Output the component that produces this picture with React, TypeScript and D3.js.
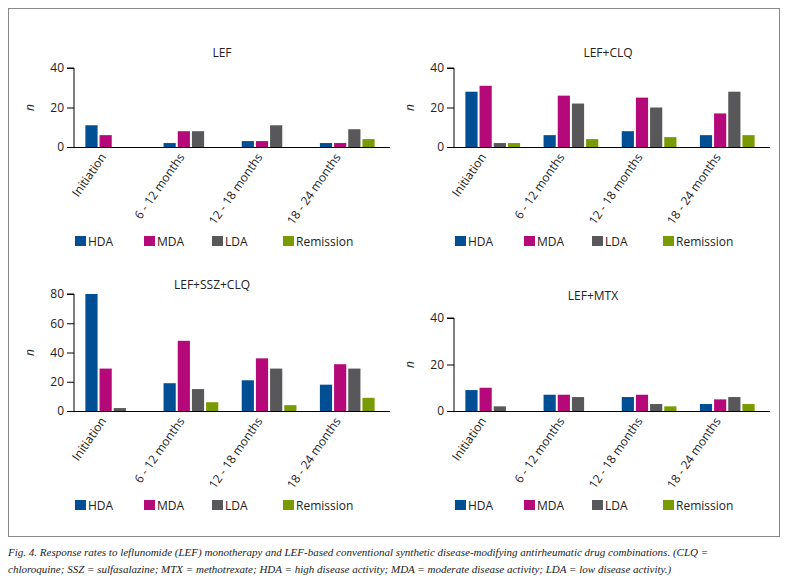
import { useEffect, useRef } from 'react';
import * as d3 from 'd3';

const categories = ['Initiation', '6 - 12 months', '12 - 18 months', '18 - 24 months'];
const seriesNames = ['HDA', 'MDA', 'LDA', 'Remission'];
const colors = ['#004f95', '#b5097a', '#58585a', '#7a9a01'];

const lefValues = [[11, 6, 0, 0], [2, 8, 8, 0], [3, 3, 11, 0], [2, 2, 9, 4]];
const lefClqValues = [[28, 31, 2, 2], [6, 26, 22, 4], [8, 25, 20, 5], [6, 17, 28, 6]];
const lefSszClqValues = [[80, 29, 2, 0], [19, 48, 15, 6], [21, 36, 29, 4], [18, 32, 29, 9]];
const lefMtxValues = [[9, 10, 2, 0], [7, 7, 6, 0], [6, 7, 3, 2], [3, 5, 6, 3]];

const panels = [
  { title: 'LEF', values: lefValues, max: 40, ticks: [0, 20, 40], x: 74, top: 68, bottom: 147, titleX: 222, titleY: 57, legendY: 241 },
  { title: 'LEF+CLQ', values: lefClqValues, max: 40, ticks: [0, 20, 40], x: 454, top: 68, bottom: 147, titleX: 608, titleY: 57, legendY: 241 },
  { title: 'LEF+SSZ+CLQ', values: lefSszClqValues, max: 80, ticks: [0, 20, 40, 60, 80], x: 74, top: 294, bottom: 411, titleX: 212, titleY: 289, legendY: 505 },
  { title: 'LEF+MTX', values: lefMtxValues, max: 40, ticks: [0, 20, 40], x: 454, top: 318, bottom: 411, titleX: 593, titleY: 300, legendY: 505 },
];

const font = '"Open Sans", "Noto Sans", sans-serif';

export default function App() {
  const svgRef = useRef<SVGSVGElement>(null);

  useEffect(() => {
    if (!svgRef.current) return;
    const svg = d3.select(svgRef.current);
    svg.selectAll('*').remove();

    svg.append('rect').attr('x', 8.5).attr('y', 8.5).attr('width', 771).attr('height', 528)
      .attr('fill', 'none').attr('stroke', '#888').attr('stroke-width', 1);

    panels.forEach((p) => {
      const g = svg.append('g');
      const x0 = d3.scaleBand().domain(categories).range([p.x + 2, p.x + 310]).paddingInner(0.3).paddingOuter(0.12);
      const x1 = d3.scaleBand().domain(seriesNames).range([0, x0.bandwidth()]).paddingInner(0.14);
      const y = d3.scaleLinear().domain([0, p.max]).range([p.bottom, p.top]);

      g.append('text').attr('x', p.titleX).attr('y', p.titleY).attr('text-anchor', 'middle')
        .attr('font-family', font).attr('font-size', 12).attr('fill', '#222').text(p.title);

      g.append('text').attr('transform', `translate(${p.x - 40},${(p.top + p.bottom) / 2}) rotate(-90)`)
        .attr('text-anchor', 'middle').attr('font-family', font).attr('font-style', 'italic')
        .attr('font-size', 12).attr('fill', '#222').text('n');

      categories.forEach((c, ci) => {
        g.selectAll(null).data(p.values[ci]).enter().append('rect')
          .attr('x', (_, i) => x0(c)! + x1(seriesNames[i])!)
          .attr('width', x1.bandwidth())
          .attr('y', (d) => y(d))
          .attr('height', (d) => p.bottom - y(d))
          .attr('fill', (_, i) => colors[i]);
      });

      const ya = g.append('g').attr('transform', `translate(${p.x},0)`)
        .call(d3.axisLeft(y).tickValues(p.ticks).tickSize(7).tickPadding(3));
      ya.select('.domain').attr('d', `M-7,${p.top}H0V${p.bottom}`);
      ya.selectAll('text').attr('font-family', font).attr('font-size', 12).attr('fill', '#222');

      g.append('line').attr('x1', p.x).attr('x2', p.x + 316).attr('y1', p.bottom + 0.5).attr('y2', p.bottom + 0.5)
        .attr('stroke', '#000');

      categories.forEach((c) => {
        const cx = x0(c)! + x0.bandwidth() / 2 - 6;
        g.append('text').attr('transform', `translate(${cx},${p.bottom + 10}) rotate(-55)`)
          .attr('text-anchor', 'end').attr('font-family', font).attr('font-size', 12)
          .attr('fill', '#222').text(c);
      });

      const legendX = [1, 70, 138, 209];
      seriesNames.forEach((s, i) => {
        g.append('rect').attr('x', p.x + legendX[i]).attr('y', p.legendY - 5).attr('width', 11).attr('height', 10)
          .attr('fill', colors[i]);
        g.append('text').attr('x', p.x + legendX[i] + 13).attr('y', p.legendY + 5)
          .attr('font-family', font).attr('font-size', 12).attr('fill', '#222').text(s);
      });
    });

    const cap = svg.append('text').attr('font-family', '"Liberation Serif", serif').attr('font-style', 'italic')
      .attr('font-size', 11).attr('fill', '#222');
    cap.append('tspan').attr('x', 8).attr('y', 556)
      .text('Fig. 4. Response rates to leflunomide (LEF) monotherapy and LEF-based conventional synthetic disease-modifying antirheumatic drug combinations. (CLQ =');
    cap.append('tspan').attr('x', 8).attr('y', 573)
      .text('chloroquine; SSZ = sulfasalazine; MTX = methotrexate; HDA = high disease activity; MDA = moderate disease activity; LDA = low disease activity.)');
  }, []);

  return (
    <div style={{ position: 'fixed', left: 0, top: 0 }}>
      <svg ref={svgRef} width={789} height={581} style={{ display: 'block', background: '#fff' }} />
    </div>
  );
}
